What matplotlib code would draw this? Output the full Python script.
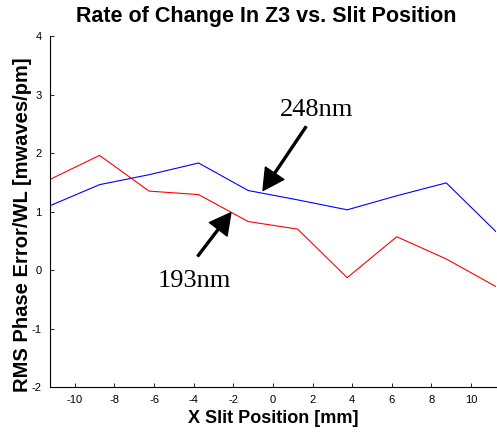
import matplotlib

matplotlib.use("Agg")
import matplotlib.pyplot as plt

# slit positions [mm] and rate of change in Z3 [mwaves/pm]
x_pos = [-11.25, -8.75, -6.25, -3.75, -1.25, 1.25, 3.75, 6.25, 8.75, 11.25]
z3_248 = [1.10, 1.46, 1.63, 1.83, 1.36, 1.20, 1.03, 1.27, 1.49, 0.66]
z3_193 = [1.55, 1.96, 1.35, 1.29, 0.83, 0.70, -0.13, 0.57, 0.19, -0.28]

x_ticks = list(range(-10, 11, 2))
y_ticks = list(range(-2, 5))

plt.rcParams["font.family"] = ["Liberation Sans", "DejaVu Sans"]
plt.rcParams["axes.unicode_minus"] = False

fig = plt.figure(figsize=(4.97, 4.34), dpi=100)
ax = fig.add_axes([0.1006, 0.108, 0.897, 0.809])

ax.plot(x_pos, z3_248, color="#0000ff", lw=0.8)
ax.plot(x_pos, z3_193, color="#ff0000", lw=0.8)

ax.set_xlim(-11.25, 11.25)
ax.set_ylim(-2, 4)
ax.set_xticks(x_ticks)
ax.set_yticks(y_ticks)
ax.tick_params(direction="in", labelsize=8, length=3, width=0.6)
ax.tick_params(axis="x", pad=6)
ax.tick_params(axis="y", pad=6)
for side in ("top", "right"):
    ax.spines[side].set_visible(False)
for side in ("left", "bottom"):
    ax.spines[side].set_linewidth(0.8)

ax.set_title("Rate of Change In Z3 vs. Slit Position", fontsize=15.5,
             fontweight="bold", pad=10, x=0.485)
ax.set_xlabel("X Slit Position [mm]", fontsize=13, fontweight="bold", labelpad=3)
ax.set_ylabel("RMS Phase Error/WL [mwaves/pm]", fontsize=14.5, fontweight="bold")
ax.yaxis.set_label_coords(-0.040, 0.463)

arrow = dict(facecolor="black", edgecolor="black", width=1.4, headwidth=16,
             headlength=15, shrink=0)
ax.annotate("", xy=(-0.5, 1.36), xytext=(1.67, 2.45), arrowprops=arrow)
ax.text(2.2, 2.74, "248nm", fontsize=19, family=["Liberation Serif"],
        ha="center", va="center")
ax.annotate("", xy=(-2.12, 0.98), xytext=(-3.79, 0.24), arrowprops=arrow)
ax.text(-3.95, -0.18, "193nm", fontsize=19, family=["Liberation Serif"],
        ha="center", va="center")

fig.savefig("out.png", dpi=100)
